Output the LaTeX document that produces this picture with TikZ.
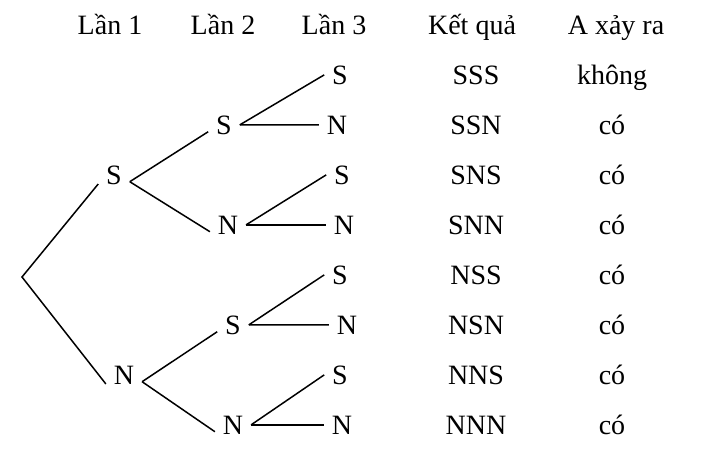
\documentclass[tikz,border=0pt]{standalone}
\usepackage{fontspec}
\setmainfont{Liberation Serif}
\usetikzlibrary{positioning}
\tikzset{
	lbl/.style={
			anchor=base, inner xsep=8pt, inner ysep=2pt, outer sep=0pt,
			font=\fontsize{28}{33}\selectfont
		},
	branch/.style={line width=1.5pt, black}
}

\begin{document}
\begin{tikzpicture}[x=1pt,y=-1pt]
	\useasboundingbox (0,0) rectangle (706,456);

	% Column headings
	\node[lbl] (h1) at (110,34) {Lần 1};
	\node[lbl] (h2) at (223,34) {Lần 2};
	\node[lbl] (h3) at (334,34) {Lần 3};
	\node[lbl] (h4) at (472,34) {Kết quả};
	\node[lbl] (h5) at (616,34) {A xảy ra};

	% Root and first toss
	\coordinate (o) at (22,277);
	\node[lbl] (s) at (114,184) {S};
	\node[lbl] (n) at (124,384) {N};

	% Second toss
	\node[lbl] (ss) at (224,134) {S};
	\node[lbl] (sn) at (228,234) {N};
	\node[lbl] (ns) at (233,334) {S};
	\node[lbl] (nn) at (233,434) {N};

	% Third toss
	\node[lbl] (sss) at (340,84) {S};
	\node[lbl] (ssn) at (337,134) {N};
	\node[lbl] (sns) at (342,184) {S};
	\node[lbl] (snn) at (344,234) {N};
	\node[lbl] (nss) at (340,284) {S};
	\node[lbl] (nsn) at (347,334) {N};
	\node[lbl] (nns) at (340,384) {S};
	\node[lbl] (nnn) at (342,434) {N};

	% Draw the branches
	\draw[branch] (s.base west) -- (o) -- (n.base west);
	\foreach \a/\b in {s/ss, s/sn, n/ns, n/nn}
		\draw[branch] (\a.mid east) -- (\b.mid west);
	\foreach \a in {ss, sn, ns, nn} {
		\draw[branch] (\a.east) -- (\a s.west);
		\draw[branch] (\a.east) -- (\a n.west);
	}

	% Outcomes and whether A happens
	\foreach \r/\c [count=\i] in {SSS/không, SSN/có, SNS/có, SNN/có,
	                              NSS/có, NSN/có, NNS/có, NNN/có} {
		\node[lbl] (r\i) at (476,34+50*\i) {\r};
		\node[lbl] (c\i) at (612,34+50*\i) {\c};
	}
\end{tikzpicture}
\end{document}
